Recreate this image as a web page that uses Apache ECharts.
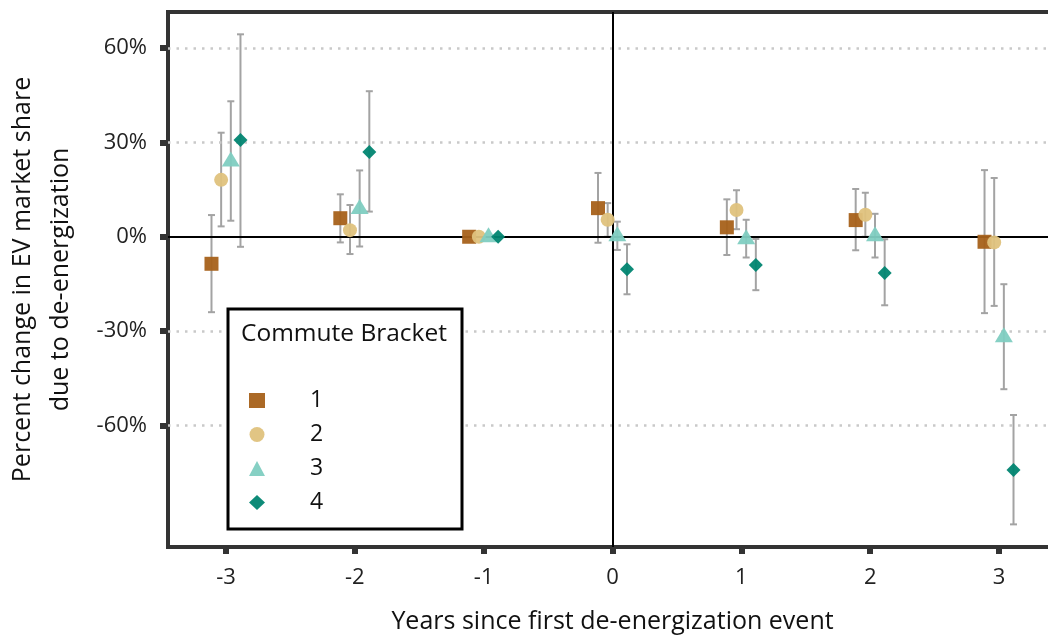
<!DOCTYPE html>
<html>
<head>
<meta charset="utf-8">
<style>
  html, body { margin: 0; padding: 0; background: #fff; }
  #chart { width: 1048px; height: 638px; }
</style>
<script src="https://cdn.jsdelivr.net/npm/echarts@6/dist/echarts.min.js"></script>
</head>
<body>
<div id="chart"></div>
<script>
// Event-study estimates by commute bracket (percent change, with 95% CI)
const years = [-3, -2, -1, 0, 1, 2, 3];
const brackets = ['1', '2', '3', '4'];

const est1 = [-8.6, 5.9, 0, 9.1, 3.0, 5.3, -1.6];
const lo1  = [-24.0, -1.8, null, -1.9, -5.8, -4.3, -24.3];
const hi1  = [6.9, 13.5, null, 20.3, 11.9, 15.2, 21.2];

const est2 = [18.1, 2.1, 0, 5.4, 8.5, 7.0, -1.8];
const lo2  = [3.3, -5.5, null, 0.0, 2.4, 0.0, -22.0];
const hi2  = [33.1, 10.1, null, 10.7, 14.8, 14.0, 18.7];

const est3 = [24.1, 9.0, 0, 0.3, -0.6, 0.35, -31.8];
const lo3  = [5.1, -3.1, null, -4.2, -6.6, -6.6, -48.5];
const hi3  = [43.1, 21.1, null, 4.8, 5.4, 7.3, -15.1];

const est4 = [30.8, 27.0, 0, -10.3, -9.0, -11.5, -74.2];
const lo4  = [-3.2, 8.0, null, -18.3, -17.0, -21.8, -91.5];
const hi4  = [64.4, 46.3, null, -2.4, -0.7, -0.8, -56.7];

const yTicks = [-60, -30, 0, 30, 60];
const gridValues = [-60, -30, 30, 60];

const estimates = [est1, est2, est3, est4];
const lowers = [lo1, lo2, lo3, lo4];
const uppers = [hi1, hi2, hi3, hi4];

const colors = ['#A6611A', '#DFC27D', '#80CDC1', '#018571'];
const symbols = ['rect', 'circle', 'triangle', 'diamond'];
const symbolSizes = [14, 14, [18, 15], [14, 14]];
const symbolOffsets = [[0, 0], [0, 0], [0, -2], [0, 0]];
const dodge = 0.075; // horizontal spacing between brackets within a year
const FONT = '"Open Sans", "Noto Sans", sans-serif';

const chart = echarts.init(document.getElementById('chart'), null, { renderer: 'canvas' });

const series = [];

// error bars (drawn beneath the points)
brackets.forEach((b, i) => {
  const off = (i - 1.5) * dodge;
  const data = [];
  years.forEach((yr, j) => {
    if (lowers[i][j] !== null) data.push([yr + off, lowers[i][j], uppers[i][j]]);
  });
  series.push({
    type: 'custom',
    name: 'ci' + b,
    z: 3,
    silent: true,
    data: data,
    renderItem: function (params, api) {
      const x = api.value(0);
      const lo = api.coord([x, api.value(1)]);
      const hi = api.coord([x, api.value(2)]);
      const cap = 3.5;
      const style = { stroke: '#a3a3a3', lineWidth: 2, fill: null };
      return {
        type: 'group',
        children: [
          { type: 'line', shape: { x1: lo[0], y1: lo[1], x2: hi[0], y2: hi[1] }, style: style },
          { type: 'line', shape: { x1: lo[0] - cap, y1: lo[1], x2: lo[0] + cap, y2: lo[1] }, style: style },
          { type: 'line', shape: { x1: hi[0] - cap, y1: hi[1], x2: hi[0] + cap, y2: hi[1] }, style: style }
        ]
      };
    }
  });
});

// reference lines: dotted grid and solid zero lines
series.push({
  type: 'scatter',
  name: 'ref',
  data: [],
  z: 1,
  silent: true,
  markLine: {
    silent: true,
    symbol: 'none',
    label: { show: false },
    animation: false,
    data: gridValues.map(v => ({
      yAxis: v,
      lineStyle: { color: '#c9c9c9', width: 2.5, type: [2.5, 6] }
    })).concat([
      { yAxis: 0, lineStyle: { color: '#000', width: 2, type: 'solid' } },
      { xAxis: 0, lineStyle: { color: '#000', width: 2, type: 'solid' } }
    ])
  }
});

// point estimates
brackets.forEach((b, i) => {
  const off = (i - 1.5) * dodge;
  series.push({
    type: 'scatter',
    name: b,
    z: 5 + i,
    symbol: symbols[i],
    symbolSize: symbolSizes[i],
    symbolOffset: symbolOffsets[i],
    itemStyle: { color: colors[i], opacity: 0.95 },
    data: years.map((yr, j) => [yr + off, estimates[i][j]])
  });
});

const option = {
  animation: false,
  backgroundColor: '#fff',
  grid: {
    left: 168, top: 12, width: 889, height: 535,
    outerBoundsMode: 'none',
    containLabel: false,
    show: true, borderColor: '#333', borderWidth: 4, backgroundColor: 'transparent'
  },
  xAxis: {
    type: 'value',
    min: -3.45, max: 3.45,
    name: 'Years since first de-energization event',
    nameLocation: 'middle',
    nameGap: 62,
    nameTextStyle: { fontFamily: FONT, fontSize: 25, color: '#111' },
    axisLine: { show: false, onZero: false },
    splitLine: { show: false },
    axisTick: { show: true, customValues: years, length: 7, lineStyle: { color: '#333', width: 6 } },
    axisLabel: {
      customValues: years, margin: 20,
      fontFamily: FONT, fontSize: 22, color: '#222',
      formatter: v => String(v)
    }
  },
  yAxis: {
    type: 'value',
    min: -98.7, max: 71.5,
    name: 'Percent change in EV market share\ndue to de-energization',
    nameLocation: 'middle',
    nameRotate: 90,
    nameGap: 88,
    nameTextStyle: { fontFamily: FONT, fontSize: 25, color: '#111', lineHeight: 38, align: 'center' },
    axisLine: { show: false, onZero: false },
    splitLine: { show: false },
    axisTick: { show: true, customValues: yTicks, length: 8, lineStyle: { color: '#333', width: 6 } },
    axisLabel: {
      customValues: yTicks, margin: 21,
      fontFamily: FONT, fontSize: 22, color: '#222',
      formatter: v => v + '%'
    }
  },
  legend: {
    data: brackets,
    orient: 'vertical',
    left: 249,
    top: 389,
    itemWidth: 16,
    itemHeight: 15,
    itemGap: 11,
    padding: 0,
    selectedMode: false,
    z: 12,
    textStyle: { fontFamily: FONT, fontSize: 23, color: '#111', lineHeight: 22, padding: [0, 0, 0, 40] }
  },
  graphic: [
    {
      type: 'rect', z: 10,
      shape: { x: 228, y: 309, width: 234, height: 220 },
      style: { fill: '#fff', stroke: '#000', lineWidth: 3 }
    },
    {
      type: 'text', z: 11,
      x: 241, y: 334,
      style: {
        text: 'Commute Bracket', fontFamily: FONT, fontSize: 24.5, fill: '#111',
        textVerticalAlign: 'middle', verticalAlign: 'middle'
      }
    }
  ],
  series: series
};

chart.setOption(option);
</script>
</body>
</html>
